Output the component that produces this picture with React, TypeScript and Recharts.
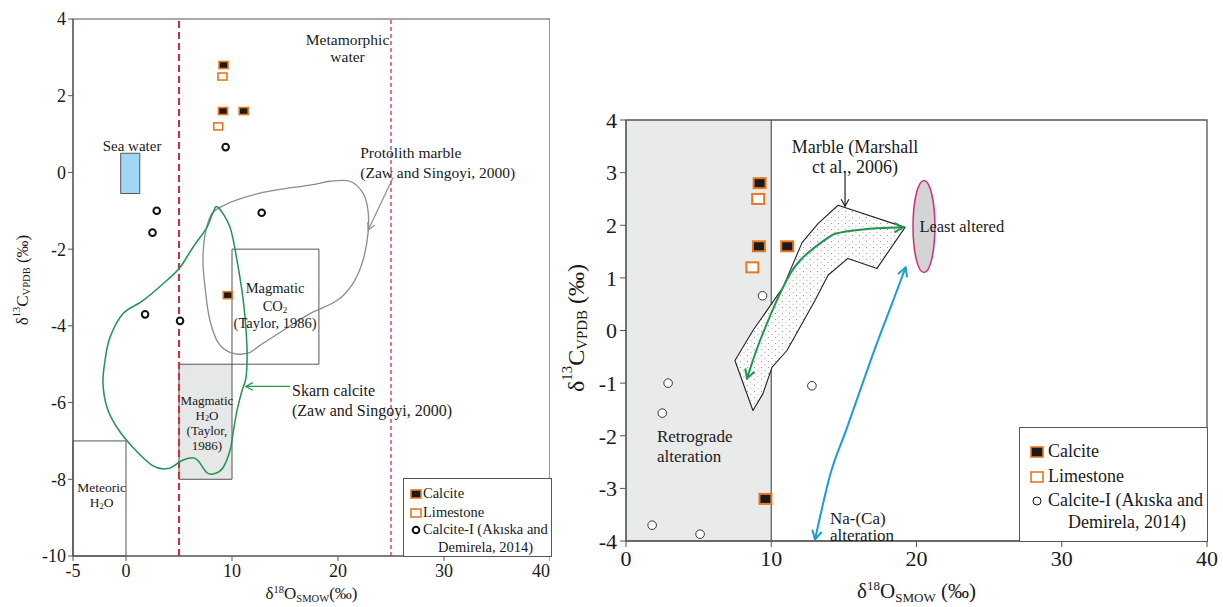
import React from 'react';
import { ScatterChart, Scatter, XAxis, YAxis, ReferenceArea, ReferenceLine, Legend, Label } from 'recharts';

const FONT = '"Liberation Serif", "Times New Roman", Times, serif';
const ORANGE = '#e8771e';
const GREEN = '#1e9650';
const BLUE = '#1c9bd6';

// ---------- sample data: δ18O (x), δ13C (y) ----------
const calciteX = [9.2, 9.15, 11.1, 9.6];
const calciteY = [2.8, 1.6, 1.6, -3.2];
const limestoneX = [9.1, 8.7];
const limestoneY = [2.5, 1.2];
const calciteIX = [9.4, 2.9, 2.5, 12.8, 1.8, 5.1];
const calciteIY = [0.66, -1.0, -1.57, -1.05, -3.7, -3.87];

const leftXTicks = [-5, 0, 10, 20, 30, 40];
const leftYTicks = [-10, -8, -6, -4, -2, 0, 2, 4];
const rightXTicks = [0, 10, 20, 30, 40];
const rightYTicks = [-4, -3, -2, -1, 0, 1, 2, 3, 4];

const legendLabels = ['Calcite', 'Limestone', 'Calcite-I (Akıska and', 'Demirela, 2014)'];

// ---------- field outlines (data units) ----------
const protolithOutline: [number, number][] = [
  [8.87, -0.91], [12.64, -0.54], [17.36, -0.33], [19.25, -0.23], [21.13, -0.23], [22.36, -0.54],
  [22.83, -0.99], [22.83, -1.59], [22.36, -2.29], [21.42, -2.89], [19.91, -3.34], [17.36, -3.68],
  [14.81, -4.12], [12.64, -4.51], [11.42, -4.72], [9.81, -4.69], [8.68, -4.43], [7.92, -3.86],
  [7.55, -3.21], [7.26, -2.21], [7.74, -1.3],
];
const skarnOutline: [number, number][] = [
  [8.68, -0.91], [9.81, -1.43], [10.47, -2.29], [10.94, -3.08], [11.23, -3.78], [11.42, -4.64],
  [11.32, -5.35], [10.94, -5.69], [10.47, -6.21], [10.09, -6.81], [9.81, -7.25], [9.15, -7.7],
  [8.4, -7.85], [7.64, -7.83], [6.79, -7.51], [6.23, -7.44], [5.28, -7.51], [3.96, -7.72],
  [2.55, -7.65], [0.66, -7.17], [-0.85, -6.65], [-1.79, -6.13], [-2.17, -5.5], [-1.98, -4.9],
  [-1.51, -4.3], [-0.28, -3.68], [1.6, -3.34], [3.87, -2.81], [5.09, -2.48], [6.32, -1.95],
  [7.64, -1.43], [8.21, -1.04],
];
const marbleOutline: [number, number][] = [
  [14.6, 2.38], [19.21, 1.96], [17.28, 1.18], [15.28, 1.37], [13.91, 1.05], [13.01, 0.57],
  [11.98, 0.06], [11.08, -0.38], [10.05, -0.7], [9.43, -1.2], [8.74, -1.52], [7.5, -0.57],
  [8.74, 0.0], [10.81, 0.82], [12.12, 1.67], [13.22, 2.03],
];
const leastAlteredExtent: [number, number][] = [[19.76, 1.98], [21.27, 1.98], [20.5, 2.85], [20.5, 1.1]];

// arrows (data units)
const protolithArrow: [number, number][] = [[25.2, -0.13], [22.85, -1.5]];
const skarnArrow: [number, number][] = [[15.47, -5.58], [11.3, -5.58]];
const marbleArrow: [number, number][] = [[15.08, 3.0], [15.08, 2.36]];
const retroArrow: [number, number][] = [
  [8.33, -0.91], [9.23, -0.19], [10.81, 0.82], [11.98, 1.33], [13.84, 1.75], [14.73, 1.86], [17.0, 1.94], [19.07, 1.96],
];
const naCaArrow: [number, number][] = [[13.01, -3.97], [14.1, -2.7], [15.2, -1.86], [17.0, -0.45], [18.3, 0.5], [19.25, 1.2]];

// annotation anchors (data units) and their text
const noteMetamorphic = { x: 20.9, y: 3.48, lines: ['Metamorphic', 'water'] };
const noteSea = { x: 0.57, y: 0.68, lines: ['Sea water'] };
const noteProtolith = { x: 22.1, y: 0.53, lines: ['Protolith marble', '(Zaw and Singoyi, 2000)'] };
const noteMagCO2 = { x: 14.06, y: -3.02, lines: ['Magmatic', 'CO_{2}', '(Taylor, 1986)'] };
const noteMagH2O = { x: 7.64, y: -5.92, lines: ['Magmatic', 'H_{2}O', '(Taylor,', '1986)'] };
const noteMeteoric = { x: -2.3, y: -8.19, lines: ['Meteoric', 'H_{2}O'] };
const noteSkarn = { x: 15.66, y: -5.66, lines: ['Skarn calcite', '(Zaw and Singoyi, 2000)'] };
const noteMarble = { x: 15.77, y: 3.48, lines: ['Marble (Marshall', 'ct al., 2006)'] };
const noteLeast = { x: 20.2, y: 1.98, lines: ['Least altered'] };
const noteRetro = { x: 2.13, y: -2.0, lines: ['Retrograde', 'alteration'] };
const noteNaCa = { x: 14.04, y: -3.56, lines: ['Na-(Ca)', 'alteration'] };

const pts = (xs: number[], ys: number[]) => xs.map((x, i) => ({ x, y: ys[i] }));
const toPts = (a: [number, number][]) => a.map(([x, y]) => ({ x, y }));

// ---------- helpers ----------
function richSpans(text: string, fs: number, subShift = 0.3) {
  const tokens = text.split(/(_\{[^}]*\}|\^\{[^}]*\})/).filter(Boolean);
  let shift = 0;
  return tokens.map((tk, i) => {
    let target = 0;
    let content = tk;
    let size = fs;
    if (tk.startsWith('_{')) { target = fs * subShift; content = tk.slice(2, -1); size = fs * 0.62; }
    else if (tk.startsWith('^{')) { target = -fs * 0.38; content = tk.slice(2, -1); size = fs * 0.62; }
    const dy = target - shift;
    shift = target;
    return <tspan key={i} dy={dy} fontSize={size}>{content}</tspan>;
  });
}

function smoothPath(p: { x: number; y: number }[], closed: boolean) {
  const n = p.length;
  if (n < 2) return '';
  const get = (i: number) => (closed ? p[(i + n) % n] : p[Math.max(0, Math.min(n - 1, i))]);
  let d = `M${p[0].x},${p[0].y}`;
  const segs = closed ? n : n - 1;
  for (let i = 0; i < segs; i++) {
    const p0 = get(i - 1), p1 = get(i), p2 = get(i + 1), p3 = get(i + 2);
    const c1x = p1.x + (p2.x - p0.x) / 6, c1y = p1.y + (p2.y - p0.y) / 6;
    const c2x = p2.x - (p3.x - p1.x) / 6, c2y = p2.y - (p3.y - p1.y) / 6;
    d += ` C${c1x},${c1y} ${c2x},${c2y} ${p2.x},${p2.y}`;
  }
  return closed ? d + 'Z' : d;
}

function headPath(tip: { x: number; y: number }, from: { x: number; y: number }, len: number) {
  const a = Math.atan2(tip.y - from.y, tip.x - from.x);
  const s = 0.5;
  const x1 = tip.x - len * Math.cos(a - s), y1 = tip.y - len * Math.sin(a - s);
  const x2 = tip.x - len * Math.cos(a + s), y2 = tip.y - len * Math.sin(a + s);
  return `M${x1},${y1} L${tip.x},${tip.y} L${x2},${y2}`;
}

const arrowLine = (color: string, width: number, both: boolean, smooth: boolean, len = 9) => (props: any) => {
  const p = (props.points || []) as { x: number; y: number }[];
  if (p.length < 2) return <g />;
  const d = smooth ? smoothPath(p, false) : p.map((q, i) => `${i ? 'L' : 'M'}${q.x},${q.y}`).join(' ');
  const n = p.length;
  return (
    <g>
      <path d={d} fill="none" stroke={color} strokeWidth={width} />
      <path d={headPath(p[n - 1], p[n - 2], len)} fill="none" stroke={color} strokeWidth={width} />
      {both && <path d={headPath(p[0], p[1], len)} fill="none" stroke={color} strokeWidth={width} />}
    </g>
  );
};

const outline = (stroke: string, fill: string, width: number, smooth: boolean, defs?: React.ReactNode) => (props: any) => {
  const p = (props.points || []) as { x: number; y: number }[];
  if (p.length < 3) return <g />;
  const d = smooth ? smoothPath(p, true) : p.map((q, i) => `${i ? 'L' : 'M'}${q.x},${q.y}`).join(' ') + 'Z';
  return (
    <g>
      {defs}
      <path d={d} fill={fill} stroke={stroke} strokeWidth={width} strokeLinejoin="round" />
    </g>
  );
};

const ellipseLine = (props: any) => {
  const p = (props.points || []) as { x: number; y: number }[];
  if (p.length < 4) return <g />;
  const xs = p.map((q) => q.x), ys = p.map((q) => q.y);
  const x0 = Math.min(...xs), x1 = Math.max(...xs), y0 = Math.min(...ys), y1 = Math.max(...ys);
  return <ellipse cx={(x0 + x1) / 2} cy={(y0 + y1) / 2} rx={(x1 - x0) / 2} ry={(y1 - y0) / 2} fill="#d4d4d4" stroke="#d12a7c" strokeWidth={1.5} />;
};

const noShape = () => <g />;

const textShape = (fs: number, lh: number, anchor: 'start' | 'middle' | 'end', fill = '#1a1a1a') => (props: any) => {
  const { cx, cy, payload } = props;
  return (
    <g>
      {(payload.lines as string[]).map((l, i) => (
        <text key={i} x={cx} y={cy + i * lh} textAnchor={anchor} dominantBaseline="central" fontFamily={FONT} fontSize={fs} fill={fill}>
          {richSpans(l, fs)}
        </text>
      ))}
    </g>
  );
};

const squareShape = (w: number, h: number, fill: string, sw: number) => (props: any) => {
  const { cx, cy } = props;
  return <rect x={cx - w / 2} y={cy - h / 2} width={w} height={h} fill={fill} stroke={ORANGE} strokeWidth={sw} />;
};
const circleShape = (r: number, sw: number, stroke: string) => (props: any) => {
  const { cx, cy } = props;
  return <circle cx={cx} cy={cy} r={r} fill="#fff" stroke={stroke} strokeWidth={sw} />;
};

function LegendBox({ fs, rows, markerX, markerW, markerH, textX, line2X, circleR, circleSW }: any) {
  const items = [
    <rect x={1} y={1} width={markerW} height={markerH} fill="#1a1a1a" stroke={ORANGE} strokeWidth={1.6} />,
    <rect x={1} y={1} width={markerW} height={markerH} fill="#fff" stroke={ORANGE} strokeWidth={1.6} />,
    <circle cx={markerW / 2 + 1} cy={markerH / 2 + 1} r={circleR} fill="#fff" stroke="#111" strokeWidth={circleSW} />,
  ];
  return (
    <div style={{ position: 'relative', width: '100%', height: '100%', boxSizing: 'border-box', border: '1px solid #555', background: '#fff', fontFamily: FONT, fontSize: fs, color: '#1a1a1a' }}>
      {items.map((m, i) => (
        <svg key={'m' + i} width={markerW + 2} height={markerH + 2} style={{ position: 'absolute', left: markerX, top: rows[i] - markerH / 2 - 1 }}>{m}</svg>
      ))}
      {legendLabels.map((t, i) => (
        <div key={'t' + i} style={{ position: 'absolute', left: i === 3 ? line2X : textX, top: rows[i] - fs * 0.6, lineHeight: `${fs * 1.2}px`, whiteSpace: 'nowrap' }}>{t}</div>
      ))}
    </div>
  );
}

const xTitle = (fs: number, dy: number, spaceAfter: string) => (props: any) => {
  const vb = props.viewBox || { x: 0, y: 0, width: 0, height: 0 };
  return (
    <text x={vb.x + vb.width / 2} y={vb.y + dy} textAnchor="middle" fontFamily={FONT} fontSize={fs} fill="#1a1a1a">
      {richSpans(`δ^{18}O_{SMOW}${spaceAfter}(‰)`, fs, 0.2)}
    </text>
  );
};
const yTitle = (fs: number, x: number, cy: number) => () => (
  <text x={x} y={cy} transform={`rotate(-90 ${x} ${cy})`} textAnchor="middle" dominantBaseline="central" fontFamily={FONT} fontSize={fs} fill="#1a1a1a">
    {richSpans('δ^{13}C_{VPDB} (‰)', fs, 0.25)}
  </text>
);

const dotsPattern = (
  <defs>
    <pattern id="marbleDots" width="7" height="6" patternUnits="userSpaceOnUse">
      <rect width="7" height="6" fill="#fbfbfb" />
      <circle cx="1.5" cy="1.5" r="0.55" fill="#8a8a8a" />
      <circle cx="5" cy="4.5" r="0.5" fill="#a0a0a0" />
    </pattern>
  </defs>
);

const AXIS = '#555';

function LeftChart() {
  const tick = { fontSize: 18, fill: '#1a1a1a', fontFamily: FONT };
  return (
    <ScatterChart width={550} height={607} margin={{ top: 19, right: 0, bottom: 0, left: 0 }}>
      <XAxis type="number" dataKey="x" domain={[-5, 40]} ticks={leftXTicks} allowDataOverflow height={51} tick={tick} tickSize={5} tickMargin={3} stroke={AXIS}>
        <Label content={xTitle(17, 43, '')} />
      </XAxis>
      <YAxis type="number" dataKey="y" domain={[-10, 4]} ticks={leftYTicks} allowDataOverflow width={73} tick={tick} tickSize={5} tickMargin={2} stroke={AXIS}>
        <Label content={yTitle(17, 22, 280)} />
      </YAxis>
      <ReferenceArea x1={-5} x2={40} y1={-10} y2={4} fill="none" fillOpacity={0} stroke={AXIS} strokeWidth={1.2} />
      <ReferenceArea x1={5} x2={10} y1={-8} y2={-5} fill="#e6e7e7" fillOpacity={1} stroke={AXIS} strokeWidth={1} />
      <ReferenceArea x1={10} x2={18.2} y1={-5} y2={-2} fill="none" fillOpacity={0} stroke={AXIS} strokeWidth={1} />
      <ReferenceArea x1={-5} x2={0} y1={-10} y2={-7} fill="none" fillOpacity={0} stroke={AXIS} strokeWidth={1} />
      <ReferenceArea x1={-0.5} x2={1.3} y1={-0.55} y2={0.5} fill="#9fd6f2" fillOpacity={1} stroke="#555" strokeWidth={1} />
      <ReferenceLine x={5} stroke="#d42a3a" strokeWidth={2} strokeDasharray="7 4" />
      <ReferenceLine x={25} stroke="#c5305e" strokeWidth={1.3} strokeDasharray="4 3" />

      <Scatter data={toPts(protolithOutline)} shape={noShape} line={outline('#8c8c8c', 'none', 1.3, true)} isAnimationActive={false} />
      <Scatter data={toPts(skarnOutline)} shape={noShape} line={outline(GREEN, 'none', 1.5, true)} isAnimationActive={false} />
      <Scatter data={toPts(protolithArrow)} shape={noShape} line={arrowLine('#8c8c8c', 1.2, false, false, 8)} isAnimationActive={false} />
      <Scatter data={toPts(skarnArrow)} shape={noShape} line={arrowLine(GREEN, 1.2, false, false, 8)} isAnimationActive={false} />

      <Scatter data={[noteMetamorphic]} shape={textShape(15.5, 17, 'middle')} isAnimationActive={false} />
      <Scatter data={[noteSea]} shape={textShape(15, 17, 'middle')} isAnimationActive={false} />
      <Scatter data={[noteProtolith]} shape={textShape(15.5, 20, 'start')} isAnimationActive={false} />
      <Scatter data={[noteMagCO2]} shape={textShape(14.5, 17.5, 'middle')} isAnimationActive={false} />
      <Scatter data={[noteMagH2O]} shape={textShape(13, 15, 'middle')} isAnimationActive={false} />
      <Scatter data={[noteMeteoric]} shape={textShape(13.5, 15, 'middle')} isAnimationActive={false} />
      <Scatter data={[noteSkarn]} shape={textShape(16, 20, 'start')} isAnimationActive={false} />

      <Scatter name="Calcite" data={pts(calciteX, calciteY)} shape={squareShape(9, 7, '#1a1a1a', 1.6)} isAnimationActive={false} />
      <Scatter name="Limestone" data={pts(limestoneX, limestoneY)} shape={squareShape(9, 7, '#fff', 1.6)} isAnimationActive={false} />
      <Scatter name="Calcite-I" data={pts(calciteIX, calciteIY)} shape={circleShape(3.3, 2, '#111')} isAnimationActive={false} />

      <Legend layout="horizontal" verticalAlign="middle" align="center"
        wrapperStyle={{ left: 403, top: 478, width: 149, height: 79 }}
        content={() => <LegendBox fs={14.5} rows={[15, 34, 51, 69]} markerX={6} markerW={10} markerH={8} textX={19} line2X={34} circleR={3.3} circleSW={2} />} />
    </ScatterChart>
  );
}

function RightChart() {
  const tick = { fontSize: 22, fill: '#1a1a1a', fontFamily: FONT };
  return (
    <ScatterChart width={673} height={607} margin={{ top: 120, right: 16, bottom: 0, left: 0 }}>
      <XAxis type="number" dataKey="x" domain={[0, 40]} ticks={rightXTicks} allowDataOverflow height={66} tick={tick} tickSize={6} tickMargin={3} stroke={AXIS}>
        <Label content={xTitle(21, 57, ' ')} />
      </XAxis>
      <YAxis type="number" dataKey="y" domain={[-4, 4]} ticks={rightYTicks} allowDataOverflow width={76} tick={tick} tickSize={6} tickMargin={3} stroke={AXIS}>
        <Label content={yTitle(24, 26, 328)} />
      </YAxis>
      <ReferenceArea x1={0} x2={10} y1={-4} y2={4} fill="#e9ebeb" fillOpacity={1} stroke="none" />
      <ReferenceLine x={10} stroke={AXIS} strokeWidth={1.2} />
      <ReferenceArea x1={0} x2={40} y1={-4} y2={4} fill="none" fillOpacity={0} stroke={AXIS} strokeWidth={1.3} />

      <Scatter data={toPts(marbleOutline)} shape={noShape} line={outline('#222', 'url(#marbleDots)', 1.1, false, dotsPattern)} isAnimationActive={false} />
      <Scatter data={toPts(leastAlteredExtent)} shape={noShape} line={ellipseLine} isAnimationActive={false} />
      <Scatter data={toPts(retroArrow)} shape={noShape} line={arrowLine(GREEN, 2, true, true, 10)} isAnimationActive={false} />
      <Scatter data={toPts(naCaArrow)} shape={noShape} line={arrowLine(BLUE, 2, true, true, 10)} isAnimationActive={false} />
      <Scatter data={toPts(marbleArrow)} shape={noShape} line={arrowLine('#222', 1.2, false, false, 8)} isAnimationActive={false} />

      <Scatter data={[noteMarble]} shape={textShape(18, 20, 'middle')} isAnimationActive={false} />
      <Scatter data={[noteLeast]} shape={textShape(16.5, 20, 'start')} isAnimationActive={false} />
      <Scatter data={[noteRetro]} shape={textShape(17, 20, 'start')} isAnimationActive={false} />
      <Scatter data={[noteNaCa]} shape={textShape(17, 17, 'start')} isAnimationActive={false} />

      <Scatter name="Calcite" data={pts(calciteX, calciteY)} shape={squareShape(12, 10, '#1a1a1a', 2)} isAnimationActive={false} />
      <Scatter name="Limestone" data={pts(limestoneX, limestoneY)} shape={squareShape(12, 10, '#fff', 2)} isAnimationActive={false} />
      <Scatter name="Calcite-I" data={pts(calciteIX, calciteIY)} shape={circleShape(4.3, 1, '#333')} isAnimationActive={false} />

      <Legend layout="horizontal" verticalAlign="middle" align="center"
        wrapperStyle={{ left: 469, top: 427, width: 189, height: 115 }}
        content={() => <LegendBox fs={18} rows={[24, 49, 73, 95]} markerX={10} markerW={12} markerH={10} textX={28} line2X={48} circleR={4} circleSW={1} />} />
    </ScatterChart>
  );
}

export default function App() {
  return (
    <div style={{ position: 'absolute', left: 0, top: 0, width: 1223, height: 607, background: '#fff', overflow: 'hidden' }}>
      <div style={{ position: 'absolute', left: 0, top: 0 }}>
        <LeftChart />
      </div>
      <div style={{ position: 'absolute', left: 550, top: 0 }}>
        <RightChart />
      </div>
    </div>
  );
}
